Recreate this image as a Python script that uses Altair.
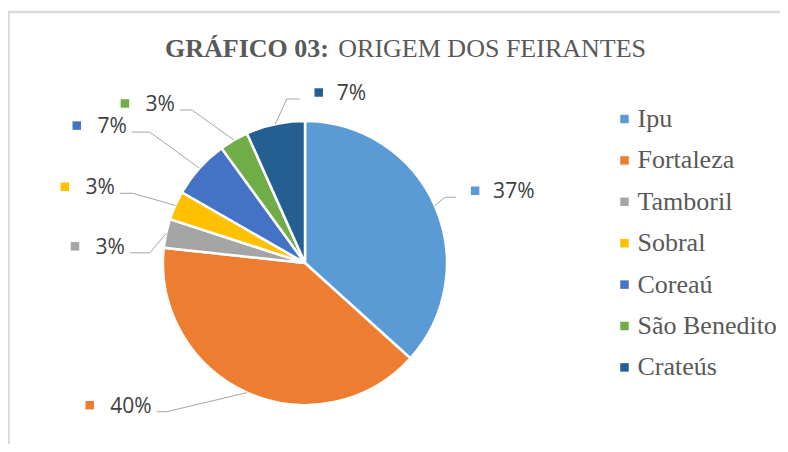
import math
import altair as alt
import pandas as pd

# ---- data ----
categories = ["Ipu", "Fortaleza", "Tamboril", "Sobral", "Coreaú", "São Benedito", "Crateús"]
shares = [36.7, 40.0, 3.3, 3.3, 6.7, 3.3, 6.7]
colors = ["#5B9BD5", "#ED7D31", "#A5A5A5", "#FFC000", "#4472C4", "#70AD47", "#255E91"]
title_bold = "GRÁFICO 03:"
title_rest = "ORIGEM DOS FEIRANTES"

# ---- label layout (Excel-style placement of data labels) ----
label_nudge = [-1.2, 18.8, -8.3, -1.9, -1.8, -6.4, 5.7]      # degrees from slice mid-angle
label_radius = [1.09, 1.43, 1.094, 1.308, 1.43, 1.34, 1.162]  # elbow distance, x pie radius
label_leg = [11, 10, 20, 13, 18, 12, 13]                      # horizontal leg, px
label_side = [1, -1, -1, -1, -1, -1, 1]                       # label to the right (1) or left (-1)

W, H = 772, 436
R = 142
CX, CY = 297, 255
XMIN, XMAX = -CX / R, (W - CX) / R
YMIN, YMAX = -(H - CY) / R, CY / R

pie = pd.DataFrame({"cat": categories, "share": shares, "idx": list(range(len(categories)))})

line_rows, lab_rows = [], []
cum = 0.0
total = sum(shares)
for i, (c, s) in enumerate(zip(categories, shares)):
    mid = (cum + s / 2) / total * 2 * math.pi
    cum += s
    ex, ey = math.sin(mid), math.cos(mid)
    a = mid + math.radians(label_nudge[i])
    bx, by = label_radius[i] * math.sin(a), label_radius[i] * math.cos(a)
    side = label_side[i]
    sx = bx + side * label_leg[i] / R
    for k, (px, py) in enumerate([(ex, ey), (bx, by), (sx, by)]):
        line_rows.append({"cat": c, "k": k, "x": px, "y": py})
    txt = f"{round(s)}%"
    width = 12 * (len(txt) - 1) + 18
    if side > 0:
        sq_x = sx + 19 / R
        tx = sq_x + 18 / R
    else:
        tx = sx - 5 / R
        sq_x = tx - width / R - 20 / R
    lab_rows.append({"cat": c, "txt": txt, "side": side,
                     "tx": tx, "ty": by - 1 / R,
                     "sx": sq_x, "sy": by + 6.5 / R})

lines = pd.DataFrame(line_rows)
labs = pd.DataFrame(lab_rows)

xs = alt.Scale(domain=[XMIN, XMAX], nice=False, zero=False)
ys = alt.Scale(domain=[YMIN, YMAX], nice=False, zero=False)
cscale = alt.Scale(domain=categories, range=colors)

one = pd.DataFrame({"a": [0]})
border_left = alt.Chart(one).mark_rule(color="#d9d9d9", strokeWidth=2.5).encode(
    x=alt.value(0.5), y=alt.value(4), y2=alt.value(H))
border_top = alt.Chart(one).mark_rule(color="#d9d9d9", strokeWidth=2.5).encode(
    x=alt.value(0), x2=alt.value(W), y=alt.value(4))

arcs = alt.Chart(pie).mark_arc(radius=R, stroke="white", strokeWidth=2.5).encode(
    theta=alt.Theta("share:Q", stack=True),
    order=alt.Order("idx:Q"),
    color=alt.Color("cat:N", scale=cscale, sort=categories,
                    legend=alt.Legend(title=None, orient="none", legendX=603.5, legendY=98,
                                      symbolType="square", symbolSize=72, symbolStrokeWidth=0,
                                      labelFont="Liberation Serif", labelFontSize=26,
                                      labelColor="#595959", rowPadding=15.4, labelOffset=0,
                                      padding=0)),
    x=alt.value(CX), y=alt.value(CY),
)

leader = alt.Chart(lines).mark_line(color="#a6a6a6", strokeWidth=1).encode(
    x=alt.X("x:Q", scale=xs, axis=None),
    y=alt.Y("y:Q", scale=ys, axis=None),
    detail="cat:N", order="k:Q")

squares = alt.Chart(labs).mark_point(shape="square", filled=True, size=72, opacity=1).encode(
    x=alt.X("sx:Q", scale=xs, axis=None),
    y=alt.Y("sy:Q", scale=ys, axis=None),
    color=alt.Color("cat:N", scale=cscale, legend=None))

tstyle = dict(font="Open Sans", fontSize=21, color="#404040", baseline="alphabetic")
text_r = alt.Chart(labs).transform_filter("datum.side > 0").mark_text(align="left", **tstyle).encode(
    x=alt.X("tx:Q", scale=xs, axis=None), y=alt.Y("ty:Q", scale=ys, axis=None), text="txt:N")
text_l = alt.Chart(labs).transform_filter("datum.side < 0").mark_text(align="right", **tstyle).encode(
    x=alt.X("tx:Q", scale=xs, axis=None), y=alt.Y("ty:Q", scale=ys, axis=None), text="txt:N")

t1 = alt.Chart(pd.DataFrame({"t": [title_bold]})).mark_text(
    align="left", baseline="alphabetic", font="Liberation Serif", fontSize=26,
    fontWeight="bold", color="#595959").encode(x=alt.value(157), y=alt.value(49), text="t:N")
t2 = alt.Chart(pd.DataFrame({"t": [title_rest]})).mark_text(
    align="right", baseline="alphabetic", font="Liberation Serif", fontSize=26,
    color="#595959").encode(x=alt.value(638), y=alt.value(49), text="t:N")

chart = alt.layer(border_left, border_top, arcs, leader, squares, text_r, text_l, t1, t2).properties(
    width=W, height=H, autosize=alt.AutoSizeParams(type="none"), padding=0,
    background="white"
).configure_view(stroke=None)

chart.save("out.html", embed_options={"renderer": "svg", "actions": False})
